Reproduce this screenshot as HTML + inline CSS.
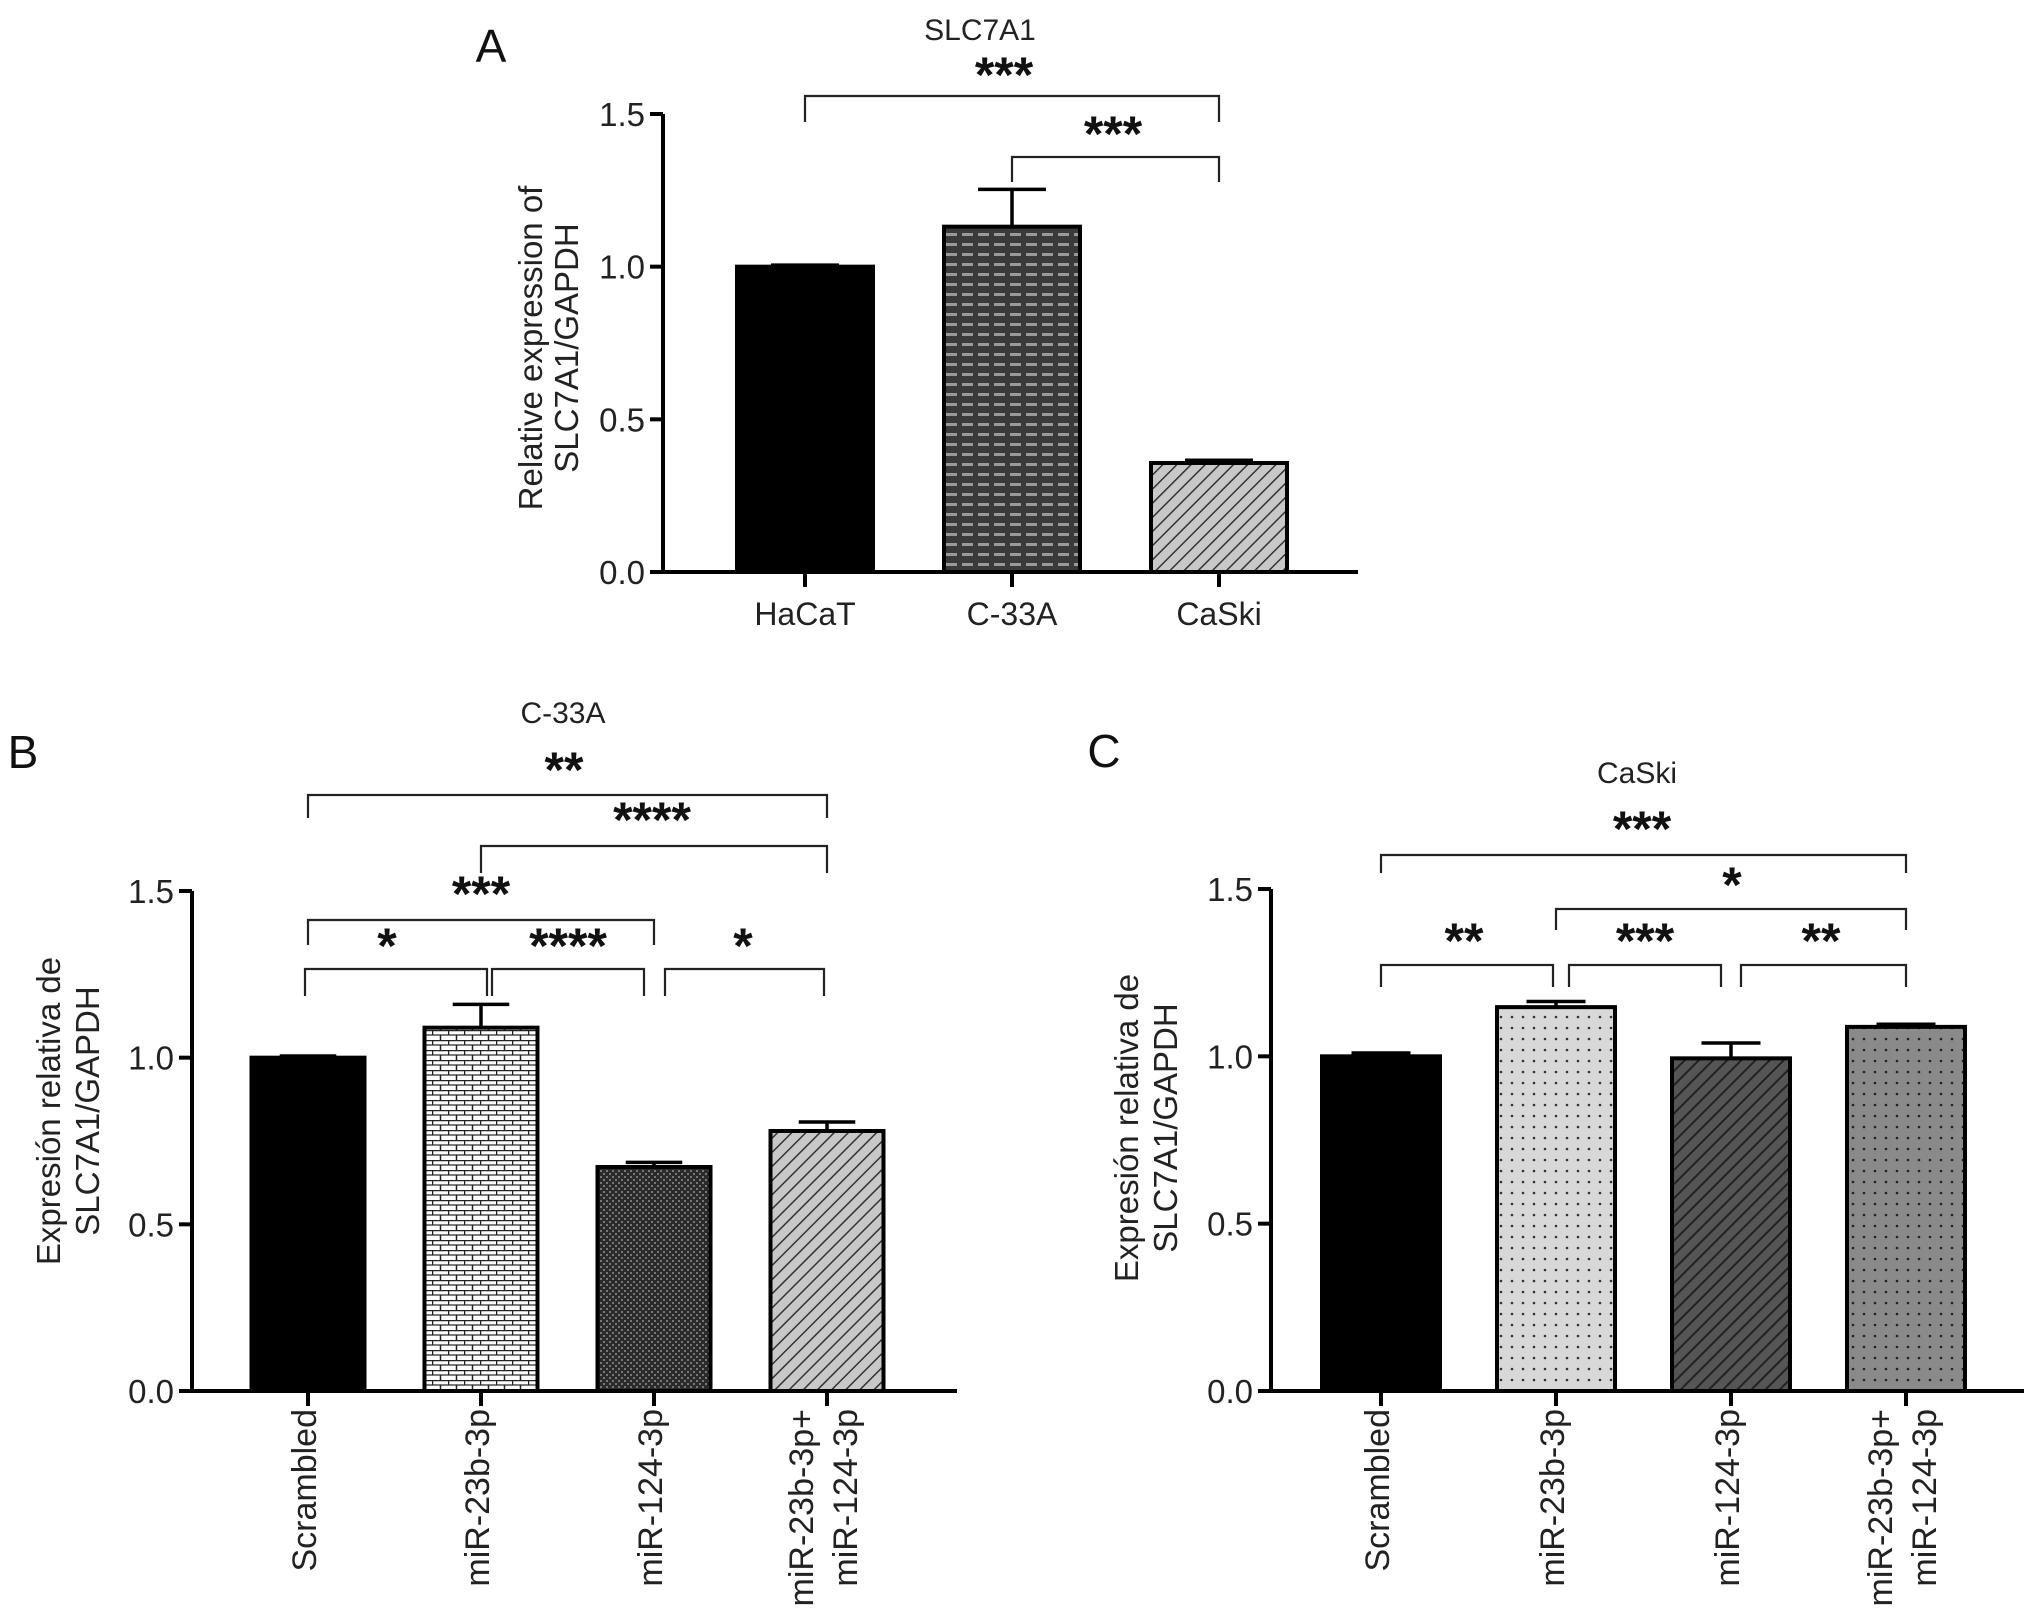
<!DOCTYPE html>
<html><head><meta charset="utf-8"><style>
html,body{margin:0;padding:0;background:#fff}
svg{display:block;font-family:"Liberation Sans",Arial,sans-serif}
</style></head><body>
<svg id="fig" width="2032" height="1624" viewBox="0 0 2032 1624" xmlns="http://www.w3.org/2000/svg">
<defs>
<pattern id="brickDark" width="16" height="10" patternUnits="userSpaceOnUse"><rect width="16" height="10" fill="#3a3a3a"/><rect x="2" y="3" width="11" height="3" fill="#9a9a9a"/></pattern>
<pattern id="brickLight" width="16" height="10" patternUnits="userSpaceOnUse"><rect width="16" height="10" fill="#fff"/><line x1="0" y1="0.5" x2="16" y2="0.5" stroke="#222" stroke-width="1.5"/><line x1="0.5" y1="0" x2="0.5" y2="5" stroke="#222" stroke-width="1.5"/><line x1="8.5" y1="5" x2="8.5" y2="10" stroke="#222" stroke-width="1.5"/><line x1="0" y1="5" x2="16" y2="5" stroke="#222" stroke-width="1.2"/></pattern>
<pattern id="hatchLight" width="10" height="10" patternUnits="userSpaceOnUse" patternTransform="rotate(45)"><rect width="10" height="10" fill="#c8c8c8"/><line x1="0" y1="0" x2="0" y2="10" stroke="#333" stroke-width="3"/></pattern>
<pattern id="hatchDark" width="10" height="10" patternUnits="userSpaceOnUse" patternTransform="rotate(45)"><rect width="10" height="10" fill="#555"/><line x1="0" y1="0" x2="0" y2="10" stroke="#222" stroke-width="4"/></pattern>
<pattern id="cross" width="6" height="6" patternUnits="userSpaceOnUse"><rect width="6" height="6" fill="#2a2a2a"/><rect x="0" y="0" width="2" height="2" fill="#777"/><rect x="3" y="3" width="2" height="2" fill="#777"/></pattern>
<pattern id="dotLight" width="11" height="11" patternUnits="userSpaceOnUse"><rect width="11" height="11" fill="#d8d8d8"/><circle cx="5" cy="5" r="1.3" fill="#333"/></pattern>
<pattern id="dotMid" width="11" height="11" patternUnits="userSpaceOnUse"><rect width="11" height="11" fill="#8a8a8a"/><circle cx="5" cy="5" r="1.3" fill="#222"/></pattern>
</defs>
</svg>
<script>
// Panel A data
const catsA = ["HaCaT","C-33A","CaSki"];
const valsA = [1.0, 1.131, 0.357];
const errA = [1.005, 1.253, 0.366];
// Panel B data
const catsB = [["Scrambled"],["miR-23b-3p"],["miR-124-3p"],["miR-23b-3p+","miR-124-3p"]];
const valsB = [1.0, 1.09, 0.672, 0.78];
const errB = [1.005, 1.16, 0.686, 0.807];
// Panel C data
const valsC = [1.0, 1.147, 0.994, 1.088];
const errC = [1.01, 1.164, 1.04, 1.096];
const ticks = [0.0, 0.5, 1.0, 1.5];
const tickLabels = ["0.0","0.5","1.0","1.5"];

const NS="http://www.w3.org/2000/svg";
const svg=document.getElementById('fig');
function el(tag,attrs,parent,text){const e=document.createElementNS(NS,tag);for(const k in attrs)e.setAttribute(k,attrs[k]);if(text!==undefined)e.textContent=text;(parent||svg).appendChild(e);return e;}

function panel(cfg){
  const g=el('g',{},svg);
  
  
  const y=v=>cfg.y0-(v/1.5)*(cfg.y0-cfg.y15);
  const x=i=>cfg.xs0+i*cfg.step;
  const ya=el('line',{x1:cfg.ax,y1:cfg.y15,x2:cfg.ax,y2:cfg.y0,stroke:'#000','stroke-width':4},g);
  
  const xa=el('line',{x1:cfg.ax-2,y1:cfg.y0,x2:cfg.axEnd,y2:cfg.y0,stroke:'#000','stroke-width':4},g);
  
  ticks.forEach((t,i)=>{
    el('line',{x1:cfg.ax-13,y1:y(t),x2:cfg.ax,y2:y(t),stroke:'#000','stroke-width':4},g);
    const tl=el('text',{x:cfg.ax-18,y:y(t)+12,'text-anchor':'end','font-size':33,fill:'#222'},g,tickLabels[i]);
    
  });
  cfg.vals.forEach((v,i)=>{
    const cx=x(i);
    el('line',{x1:cx,y1:cfg.y0,x2:cx,y2:cfg.y0+15,stroke:'#000','stroke-width':4},g);
    el('line',{x1:cx,y1:y(cfg.err[i]),x2:cx,y2:y(v),stroke:'#000','stroke-width':3.5},g);
    el('line',{x1:cx-cfg.bw*0.25,y1:y(cfg.err[i]),x2:cx+cfg.bw*0.25,y2:y(cfg.err[i]),stroke:'#000','stroke-width':3.5},g);
    const b=el('rect',{x:cx-cfg.bw/2,y:y(v),width:cfg.bw,height:cfg.y0-y(v),fill:cfg.fills[i],stroke:'#000','stroke-width':4},g);
    
    
    const lab=cfg.cats[i];
    if(cfg.rot){
      lab.forEach((s,j)=>{
        const off=(j-(lab.length-1)/2)*44;
        const t=el('text',{x:0,y:0,'text-anchor':'end','font-size':34,fill:'#222',transform:`translate(${cx+off-4+12},${cfg.y0+18}) rotate(-90)`},g,s);
        
      });
    } else {
      const t=el('text',{x:cx,y:cfg.y0+53,'text-anchor':'middle','font-size':32,fill:'#222'},g,lab[0]);
      
    }
  });
  cfg.br.forEach(b=>{
    const x1=b.xa!==undefined?b.xa:x(b.a), x2=b.xb!==undefined?b.xb:x(b.b);
    el('polyline',{points:`${x1},${b.d1} ${x1},${b.y} ${x2},${b.y} ${x2},${b.d2}`,fill:'none',stroke:'#222','stroke-width':2.2},g);
    const s=el('text',{x:b.sx,y:b.sy+24,'text-anchor':'middle','font-size':50,'font-weight':'bold',fill:'#111'},g,b.s);
    
  });
  const tt=el('text',{x:cfg.tx,y:cfg.ty+11,'text-anchor':'middle','font-size':30,fill:'#222'},g,cfg.title);
  
  const pl=el('text',{x:cfg.lx,y:cfg.ly+17,'text-anchor':'middle','font-size':46,fill:'#111'},g,cfg.id);
  
  cfg.ylab.forEach((s,j)=>{
    const t=el('text',{x:0,y:0,'text-anchor':'middle','font-size':33,fill:'#222',transform:`translate(${cfg.ylx[j]+12},${cfg.yly}) rotate(-90)`},g,s);
    
  });
}

panel({id:'A',ax:663,axEnd:1358,y0:572,y15:114,xs0:805,step:207,bw:136,vals:valsA,err:errA,
  cats:catsA.map(c=>[c]),rot:false,names:['hacat','c33a','caski'],
  fills:['#000','url(#brickDark)','url(#hatchLight)'],
  br:[{a:0,b:2,y:96,d1:122,d2:122,s:'***',sx:1004,sy:68},
      {a:1,b:2,y:157,d1:182,d2:182,s:'***',sx:1113,sy:127}],
  title:'SLC7A1',tx:980,ty:29,lx:491,ly:45,ylab:['Relative expression of','SLC7A1/GAPDH'],ylx:[530,566],yly:348});

panel({id:'B',ax:192,axEnd:957,y0:1391,y15:891,xs0:308,step:173,bw:113,vals:valsB,err:errB,
  cats:catsB,rot:true,names:['scrambled','mir-23b','mir-124','mir-combo'],
  fills:['#000','url(#brickLight)','url(#cross)','url(#hatchLight)'],
  br:[{a:0,b:3,y:795,d1:818,d2:818,s:'**',sx:564,sy:763},
      {a:1,b:3,y:846,d1:873,d2:873,s:'****',sx:652,sy:813},
      {a:0,b:2,y:920,d1:945,d2:945,s:'***',sx:481,sy:887},
      {xa:305,xb:487,y:969,d1:996,d2:996,s:'*',sx:387,sy:939},
      {xa:492,xb:644,y:969,d1:996,d2:996,s:'****',sx:568,sy:939},
      {xa:665,xb:824,y:969,d1:996,d2:996,s:'*',sx:743,sy:939}],
  title:'C-33A',tx:563,ty:712,lx:23,ly:751,ylab:['Expresión relativa de','SLC7A1/GAPDH'],ylx:[48,87],yly:1111});

panel({id:'C',ax:1271,axEnd:2024,y0:1391,y15:889,xs0:1381,step:175,bw:118,vals:valsC,err:errC,
  cats:catsB,rot:true,names:['scrambled','mir-23b','mir-124','mir-combo'],
  fills:['#000','url(#dotLight)','url(#hatchDark)','url(#dotMid)'],
  br:[{a:0,b:3,y:855,d1:873,d2:873,s:'***',sx:1642,sy:822},
      {a:1,b:3,y:909,d1:930,d2:930,s:'*',sx:1732,sy:878},
      {xa:1381,xb:1553,y:965,d1:987,d2:987,s:'**',sx:1464,sy:934},
      {xa:1569,xb:1721,y:965,d1:987,d2:987,s:'***',sx:1645,sy:934},
      {xa:1741,xb:1906,y:965,d1:987,d2:987,s:'**',sx:1821,sy:934}],
  title:'CaSki',tx:1637,ty:772,lx:1104,ly:750,ylab:['Expresión relativa de','SLC7A1/GAPDH'],ylx:[1126,1165],yly:1128});
</script>
</body></html>
